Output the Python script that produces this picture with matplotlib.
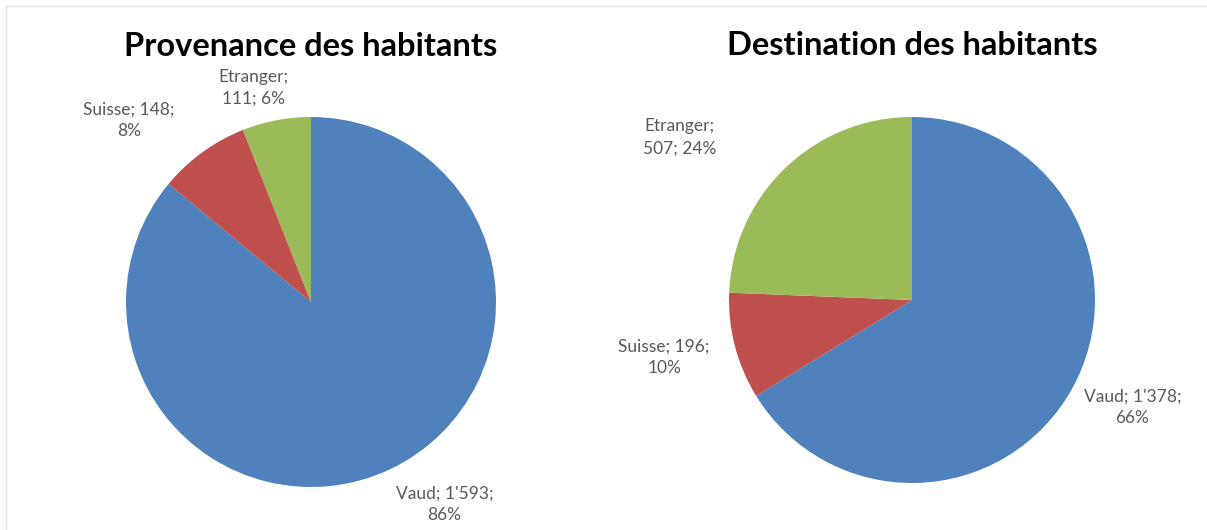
import matplotlib.pyplot as plt
import numpy as np

# data
categories = ['Vaud', 'Suisse', 'Etranger']
provenance = [1593, 148, 111]
destination = [1378, 196, 507]
prov_labels = ["Vaud; 1'593;\n86%", "Suisse; 148;\n8%", "Etranger;\n111; 6%"]
dest_labels = ["Vaud; 1'378;\n66%", "Suisse; 196;\n10%", "Etranger;\n507; 24%"]
colors = ['#4F81BD', '#C0504D', '#9BBB59']

W, H = 1207, 530
fig = plt.figure(figsize=(W / 100, H / 100), dpi=100)
fig.patch.set_facecolor('white')

def px_axes(cx, cy, r):
	# axes placed in pixel coords (cy measured from top)
	return fig.add_axes([(cx - r) / W, (H - cy - r) / H, 2 * r / W, 2 * r / H])

def draw_pie(ax, values, labels, title, label_pos, title_y):
	wedges, _ = ax.pie(values, colors=colors, startangle=90, counterclock=False,
		wedgeprops=dict(linewidth=0))
	ax.set_xlim(-1, 1)
	ax.set_ylim(-1, 1)
	ax.set_aspect('equal')
	ax.axis('off')
	for lab, (ang, dist) in zip(labels, label_pos):
		a = np.deg2rad(ang)
		ax.text(dist * np.cos(a), dist * np.sin(a), lab, ha='center', va='center',
			fontsize=12.5, color='#595959', family='Lato', linespacing=1.45)
	ax.text(0, title_y, title, ha='center', va='center', fontsize=23.5,
		fontweight='bold', family='Lato', color='black')

ax1 = px_axes(311, 302, 185)
draw_pie(ax1, provenance, prov_labels, 'Provenance des habitants',
	[(-56.6, 1.31), (135, 1.39), (105, 1.2)], 1.38)

ax2 = px_axes(912, 300, 183)
draw_pie(ax2, destination, dest_labels, 'Destination des habitants',
	[(-26, 1.34), (193, 1.39), (145, 1.55)], 1.39)

# faint chart frame
fig.add_artist(plt.Line2D([6 / W, 1], [1 - 6 / H, 1 - 6 / H], color='#e3e3e3', lw=1))
fig.add_artist(plt.Line2D([6 / W, 6 / W], [0, 1 - 6 / H], color='#e3e3e3', lw=1))

fig.savefig('out.png', dpi=100, facecolor='white')
